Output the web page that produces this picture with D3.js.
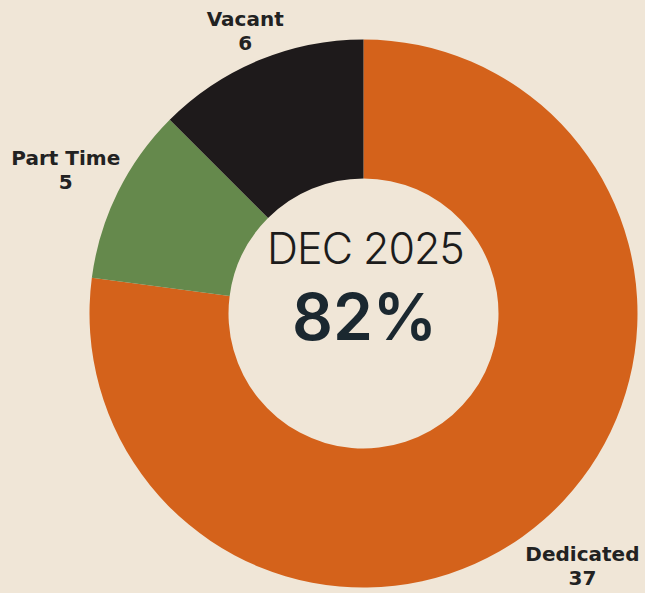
<!DOCTYPE html>
<html>
<head>
<meta charset="utf-8">
<script src="https://cdn.jsdelivr.net/npm/d3@7"></script>
<style>
  html, body { margin: 0; padding: 0; background: #f0e6d7; }
  svg { display: block; }
</style>
</head>
<body>
<svg id="chart" width="645" height="593"></svg>
<script>
// Staffing breakdown, clockwise from 12 o'clock
const categories = ["Dedicated", "Part Time", "Vacant"];
const counts = [37, 5, 6];
const colors = ["#d4621b", "#65894c", "#1e1a1b"];
const centerTitle = "DEC 2025";
const centerValue = "82%";

const W = 645, H = 593;
const cx = 363.5, cy = 313.5;
const outerR = 274, innerR = 135;
const labelR = 332;
const labelTop = 28; // smallest y for a label block centre

const svg = d3.select("#chart");
svg.append("rect").attr("width", W).attr("height", H).attr("fill", "#f0e6d7");

const data = categories.map((c, i) => ({ name: c, value: counts[i], color: colors[i] }));

const pie = d3.pie().sort(null).value(d => d.value).startAngle(0).endAngle(2 * Math.PI);
const arc = d3.arc().innerRadius(innerR).outerRadius(outerR);
const labelArc = d3.arc().innerRadius(labelR).outerRadius(labelR);

const g = svg.append("g").attr("transform", `translate(${cx},${cy})`);
const arcs = pie(data);

g.selectAll("path.slice")
  .data(arcs)
  .join("path")
  .attr("class", "slice")
  .attr("d", arc)
  .attr("fill", d => d.data.color);

// Outside labels: name over value; a label that would leave the top of the
// canvas slides back along its ray until it fits
const labelFont = "'DejaVu Sans', sans-serif";
const labels = g.selectAll("g.label")
  .data(arcs)
  .join("g")
  .attr("class", "label")
  .attr("transform", d => {
    let [x, y] = labelArc.centroid(d);
    const minY = labelTop - cy;
    if (y < minY) { x = x * (minY / y); y = minY; }
    return `translate(${x},${y})`;
  });

labels.append("text")
  .attr("text-anchor", "middle")
  .attr("y", -2)
  .attr("font-family", labelFont)
  .attr("font-weight", 700)
  .attr("font-size", 20)
  .attr("fill", "#222222")
  .text(d => d.data.name);

labels.append("text")
  .attr("text-anchor", "middle")
  .attr("y", 22)
  .attr("font-family", labelFont)
  .attr("font-weight", 700)
  .attr("font-size", 20)
  .attr("fill", "#222222")
  .text(d => d.data.value);

// Centre text
g.append("text")
  .attr("text-anchor", "middle")
  .attr("x", 2)
  .attr("y", -50)
  .attr("font-family", "Inter, sans-serif")
  .attr("font-weight", 300)
  .attr("font-size", 43)
  .attr("letter-spacing", -1)
  .attr("fill", "#1c1c1c")
  .text(centerTitle);

g.append("text")
  .attr("text-anchor", "middle")
  .attr("x", 1)
  .attr("y", 26)
  .attr("font-family", "Inter, sans-serif")
  .attr("font-weight", 600)
  .attr("font-size", 64)
  .attr("fill", "#1b2830")
  .text(centerValue);
</script>
</body>
</html>
